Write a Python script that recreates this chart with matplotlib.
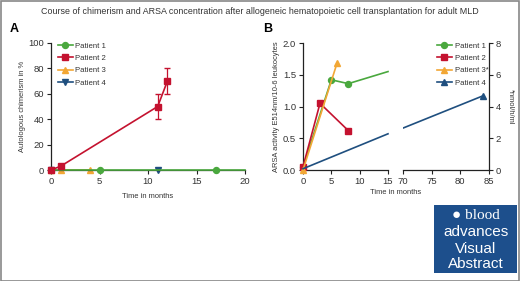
import matplotlib
matplotlib.use("Agg")
import matplotlib.pyplot as plt
from matplotlib.patches import Rectangle
from matplotlib.lines import Line2D

plt.rcParams['font.family'] = ['Liberation Sans Narrow', 'Liberation Sans', 'DejaVu Sans']

title = "Course of chimerism and ARSA concentration after allogeneic hematopoietic cell transplantation for adult MLD"

# Panel A data
a_p1_x = [0, 5, 17, 20]; a_p1_y = [0, 0, 0, 0]
a_p2_x = [0, 1, 11, 12]; a_p2_y = [0, 3, 50, 70]; a_p2_err = [0, 0, 10, 10]
a_p3_x = [0, 1, 4]; a_p3_y = [0, 0, 0]
a_p4_x = [0, 11]; a_p4_y = [0, 0]

# Panel B data (left-axis units)
b_p1_x = [0, 5, 8, 15]; b_p1_y = [0.05, 1.42, 1.36, 1.55]
b_p2_x = [0, 3, 8]; b_p2_y = [0.05, 1.05, 0.62]
b_p3_x = [0, 6]; b_p3_y = [0.0, 1.68]
b_p4_x = [0, 15, 70, 84]; b_p4_y = [0.02, 0.57, 0.66, 1.17]

labels_A = ['Patient 1', 'Patient 2', 'Patient 3', 'Patient 4']
labels_B = ['Patient 1', 'Patient 2', 'Patient 3*', 'Patient 4']

green = '#4aa83e'; red = '#c4122f'; orange = '#f2a735'; blue = '#1f4f7f'
tc = '#333333'

W, H = 520, 281
fig = plt.figure(figsize=(5.2, 2.81), dpi=100)

def box(l, r, t, b):
    return [l / W, (H - b) / H, (r - l) / W, (b - t) / H]

TS = 6.8   # tick size
LS = 5.4   # label size
GS = 5.6   # legend size

fig.text(0.5, 1 - 11 / H, title, ha='center', va='center', fontsize=6.4, color=tc)
fig.text(10 / W, 1 - 29 / H, 'A', fontsize=9, fontweight='bold', ha='left', va='center', family='Liberation Sans')
fig.text(263 / W, 1 - 29 / H, 'B', fontsize=9, fontweight='bold', ha='left', va='center', family='Liberation Sans')

def style(ax):
    ax.tick_params(labelsize=TS, length=3, width=0.8, colors='#222222', labelcolor=tc, pad=2)
    for s in ax.spines.values():
        s.set_linewidth(0.9)
        s.set_color('#222222')

ms = 4.3

# Panel A
axA = fig.add_axes(box(51, 245, 43, 170))
style(axA)
axA.spines['top'].set_visible(False)
axA.spines['right'].set_visible(False)
axA.plot(a_p1_x, a_p1_y, color=green, marker='o', ms=ms, lw=1.2, markevery=[0, 1, 2], clip_on=False, zorder=3)
axA.errorbar(a_p2_x, a_p2_y, yerr=a_p2_err, color=red, marker='s', ms=ms, lw=1.2, capsize=2, elinewidth=0.9, clip_on=False, zorder=4)
axA.plot(a_p3_x, a_p3_y, color=orange, marker='^', ms=ms, lw=1.2, clip_on=False, zorder=2)
axA.plot(a_p4_x, a_p4_y, color=blue, marker='v', ms=ms, lw=0, clip_on=False, zorder=2)
axA.set_xlim(0, 20)
axA.set_ylim(0, 100)
axA.set_xticks([0, 5, 10, 15, 20])
axA.set_yticks([0, 20, 40, 60, 80, 100])
axA.set_ylabel('Autologous chimerism in %', fontsize=LS, color=tc, labelpad=2)
axA.set_xlabel('Time in months', fontsize=LS, color=tc, labelpad=5)

def handles(m4):
    return [Line2D([], [], color=green, marker='o', ms=ms, lw=1.2),
            Line2D([], [], color=red, marker='s', ms=ms, lw=1.2),
            Line2D([], [], color=orange, marker='^', ms=ms, lw=1.2),
            Line2D([], [], color=blue, marker=m4, ms=ms, lw=1.2)]

axA.legend(handles('v'), labels_A, loc='upper left',
           bbox_to_anchor=(0.02, 1.03), frameon=False, fontsize=GS, handlelength=1.9,
           labelspacing=0.62, borderaxespad=0, handletextpad=0.35, labelcolor=tc)

# Panel B (broken x axis)
axB1 = fig.add_axes(box(303, 388, 43, 170))
axB2 = fig.add_axes(box(403, 489, 43, 170))
for ax in (axB1, axB2):
    style(ax)
    ax.spines['top'].set_visible(False)
axB1.spines['right'].set_visible(False)
axB2.spines['left'].set_visible(False)
axB2.spines['right'].set_visible(False)
axB2.tick_params(axis='y', left=False, labelleft=False)

series_B = [(b_p1_x, b_p1_y, green, 'o', [0, 1, 2]),
            (b_p2_x, b_p2_y, red, 's', None),
            (b_p3_x, b_p3_y, orange, '^', None),
            (b_p4_x, b_p4_y, blue, '^', [3])]

xmax_left = 15
for xs, ys, c, m, me in series_B:
    idx = [i for i, x in enumerate(xs) if x <= xmax_left]
    lx = [xs[i] for i in idx]; ly = [ys[i] for i in idx]
    lme = None if me is None else [k for k, i in enumerate(idx) if i in me]
    axB1.plot(lx, ly, color=c, marker=m, ms=ms, lw=1.2, markevery=lme, clip_on=False, zorder=3)
    axB2.plot(xs, ys, color=c, marker=m, ms=ms, lw=1.2, markevery=me, zorder=3)

axB1.set_xlim(0, 15)
axB1.set_ylim(0, 2.0)
axB1.set_xticks([0, 5, 10, 15])
axB1.set_yticks([0, 0.5, 1.0, 1.5, 2.0])
axB1.set_yticklabels(['0.0', '0.5', '1.0', '1.5', '2.0'])
axB1.set_ylabel('ARSA activity E514nm/10-6 leukocytes', fontsize=LS, color=tc, labelpad=2)

axB2.set_xlim(70, 85)
axB2.set_ylim(0, 2.0)
axB2.set_xticks([70, 75, 80, 85])
sec = axB2.secondary_yaxis('right', functions=(lambda y: y * 4, lambda y: y / 4))
sec.set_yticks([0, 2, 4, 6, 8])
sec.tick_params(labelsize=TS, length=3, width=0.8, colors='#222222', labelcolor=tc, pad=2)
sec.spines['right'].set_linewidth(0.9)
sec.spines['right'].set_color('#222222')
sec.set_ylabel('*nmol/h/ml', fontsize=LS, color=tc, rotation=270, labelpad=9)

fig.text(396 / W, 1 - 193 / H, 'Time in months', fontsize=LS, color=tc, ha='center', va='center')

axB2.legend(handles('^'), labels_B, loc='upper left',
            bbox_to_anchor=(0.36, 1.03), frameon=False, fontsize=GS, handlelength=1.9,
            labelspacing=0.62, borderaxespad=0, handletextpad=0.35, labelcolor=tc)

# Logo box
logo = fig.add_axes(box(434, 517, 205, 273))
logo.set_xlim(0, 1); logo.set_ylim(0, 1)
logo.axis('off')
logo.add_patch(Rectangle((0, 0), 1, 1, color='#1d4f8c', transform=logo.transAxes))
lf = ['Liberation Sans', 'DejaVu Sans']
logo.text(0.5, 0.85, '\u25cf blood', color='white', fontsize=11, ha='center', va='center', family=['Liberation Serif', 'DejaVu Serif'])
logo.text(0.5, 0.60, 'advances', color='white', fontsize=11, ha='center', va='center', family=lf)
logo.text(0.5, 0.36, 'Visual', color='white', fontsize=11, ha='center', va='center', family=lf)
logo.text(0.5, 0.13, 'Abstract', color='white', fontsize=11, ha='center', va='center', family=lf)

# Figure border
fig.patches.append(Rectangle((0.5 / W, 0.5 / H), 1 - 1.5 / W, 1 - 1.5 / H, transform=fig.transFigure,
                             fill=False, edgecolor='#888888', lw=1.2))

fig.savefig('out.png', dpi=100)
